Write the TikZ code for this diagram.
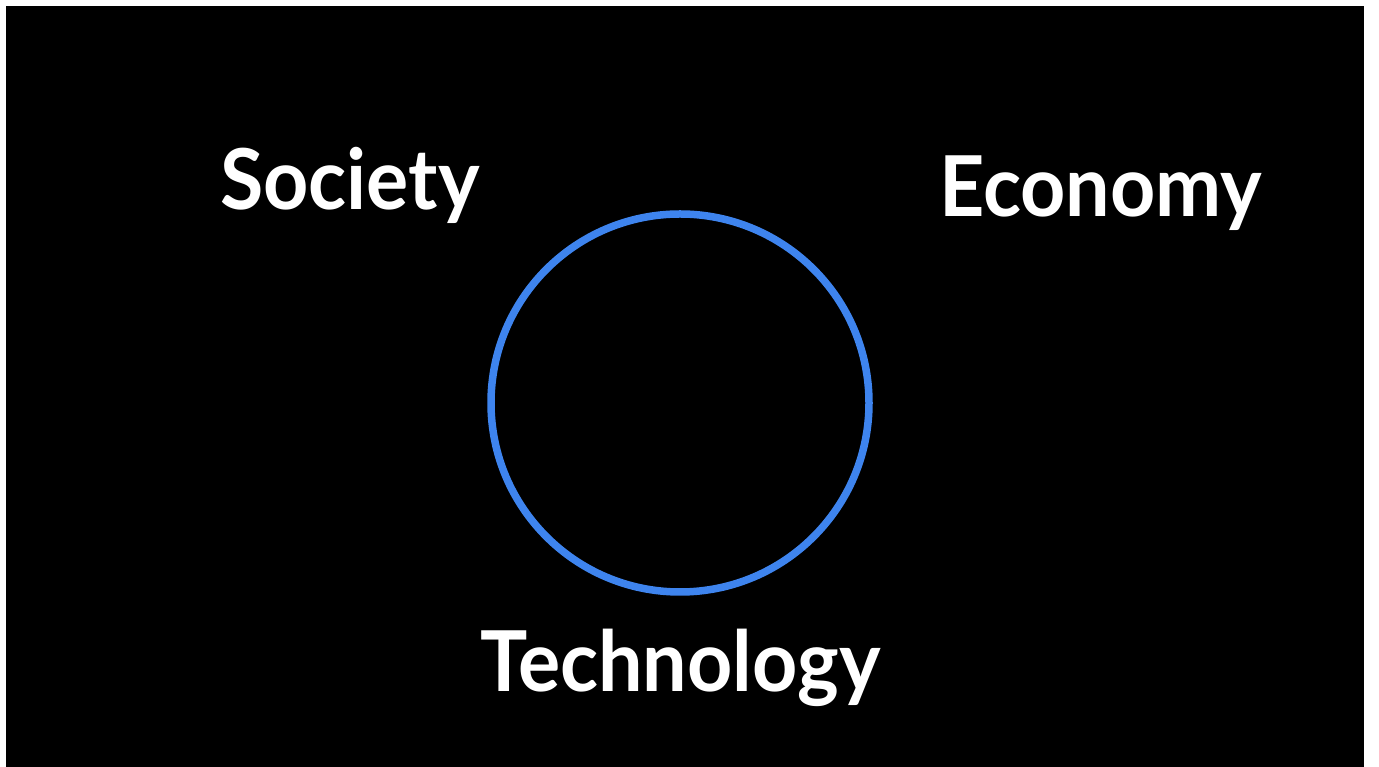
\documentclass[tikz,border=0pt]{standalone}
\usepackage{fontspec}
\setmainfont{Lato}
\definecolor{ringblue}{RGB}{62,132,238}
\begin{document}
\begin{tikzpicture}[x=1pt,y=1pt,
  label/.style={text=white,inner sep=0pt,anchor=base west,font=\fontsize{84}{90}\selectfont\bfseries}]
\useasboundingbox (0,0) rectangle (1379,767);
\fill[white] (0,0) rectangle (1379,767);
\fill[black] (6,0) rectangle (1364,761);
\node[draw=ringblue,line width=7.5pt,circle,minimum size=378pt,inner sep=0pt] (ring) at (680,364) {};
\node[label] (soc) at (220,557) {\scalebox{0.94}[1]{Society}};
\node[label] (eco) at (939,550) {\scalebox{0.94}[1]{Economy}};
\node[label] (tech) at (480,75) {\scalebox{0.94}[1]{Technology}};
\end{tikzpicture}
\end{document}
